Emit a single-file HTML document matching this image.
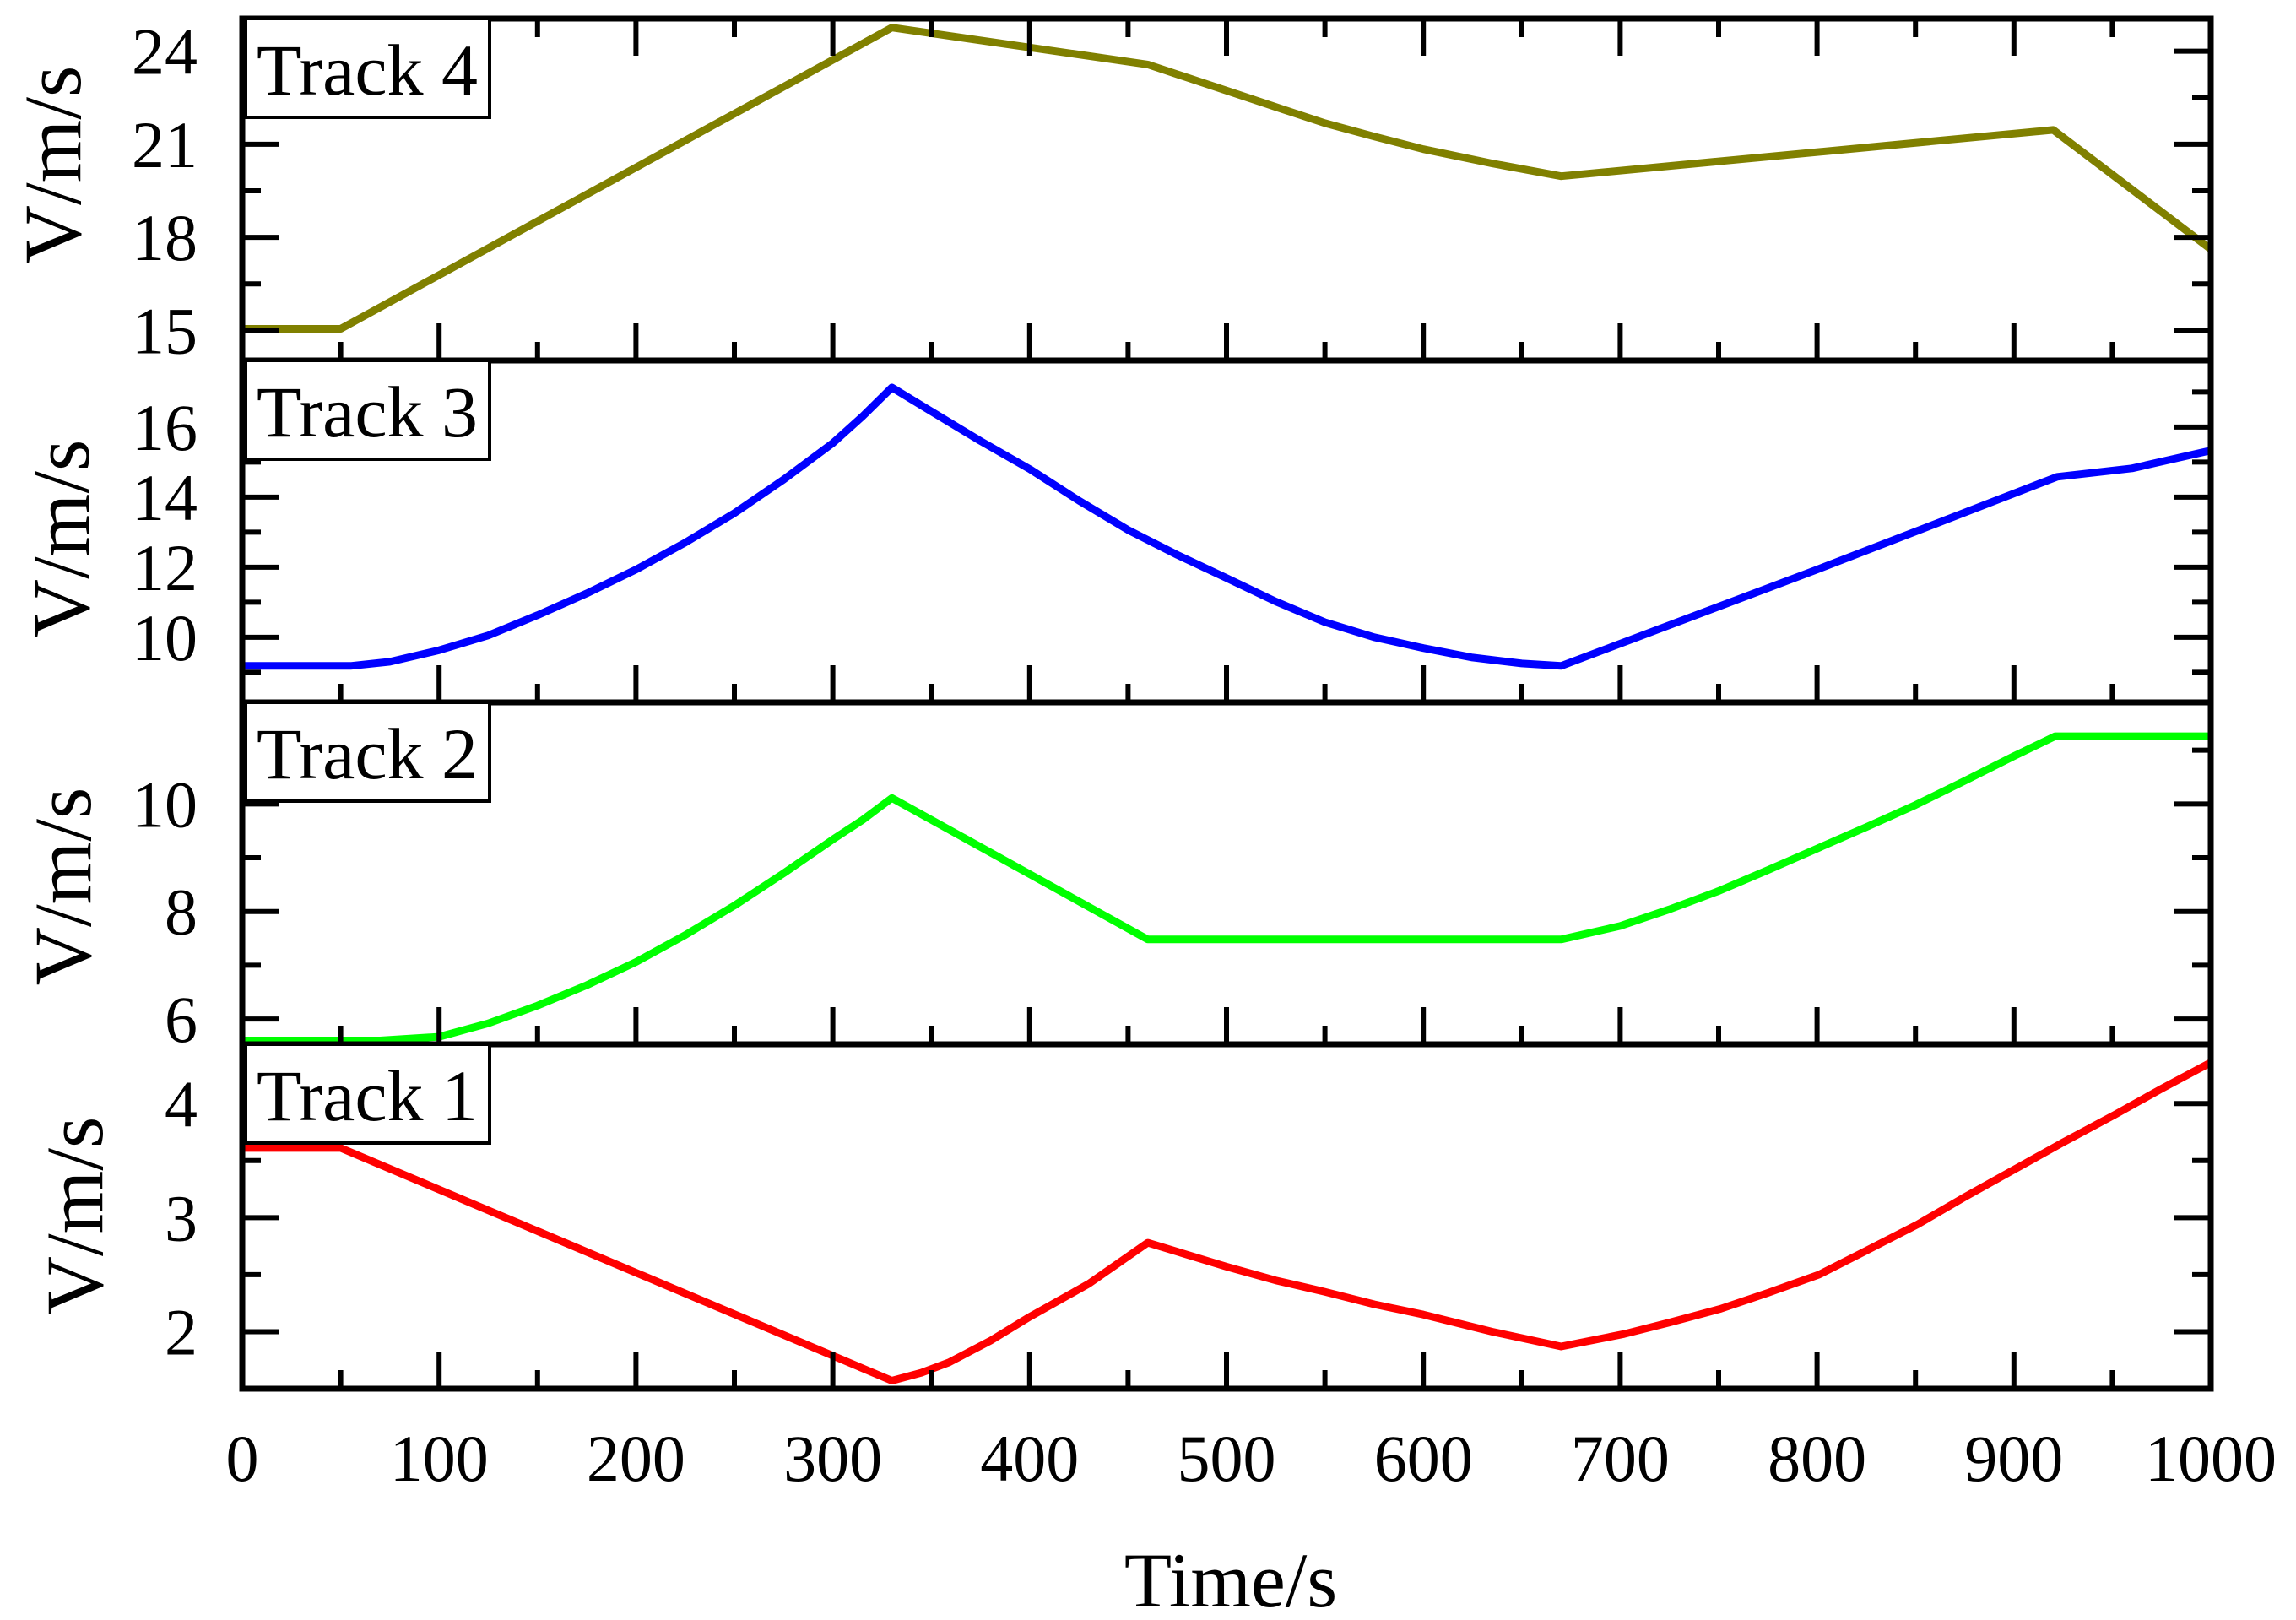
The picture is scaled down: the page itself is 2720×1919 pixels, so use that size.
<!DOCTYPE html>
<html><head><meta charset="utf-8">
<style>
html,body{margin:0;padding:0;background:#fff;}
svg{display:block;}
text{font-family:"Liberation Serif","Times New Roman",serif;fill:#000;}
</style></head>
<body>
<svg id="chart" width="2720" height="1919" viewBox="0 0 2720 1919" xmlns="http://www.w3.org/2000/svg">
<rect width="2720" height="1919" fill="#fff"/>
<text x="1458" y="1903" font-size="92" text-anchor="middle">Time/s</text>
</svg>
<script>
// ---- data ----
const xTicks = [0,100,200,300,400,500,600,700,800,900,1000];
const xTickLabels = ["0","100","200","300","400","500","600","700","800","900","1000"];

const tTrack4 = [0,50,330,460,500,525,550,575,600,635,670,920,1000];
const vTrack4 = [15.05,15.05,24.76,23.57,22.73,22.2,21.68,21.25,20.84,20.38,19.97,21.46,17.62];

const tTrack3 = [0,55,75,100,125,150,175,200,225,250,275,300,315,330,349,375,400,425,450,475,500,525,550,575,600,625,650,670,800,922,960,1000];
const vTrack3 = [9.18,9.18,9.3,9.63,10.05,10.63,11.25,11.93,12.7,13.54,14.5,15.54,16.3,17.13,16.48,15.6,14.8,13.9,13.06,12.35,11.69,11.02,10.43,10.0,9.69,9.42,9.25,9.18,11.93,14.58,14.82,15.33];

const tTrack2 = [0,70,100,125,150,175,200,225,250,275,300,315,330,460,670,700,725,750,775,800,825,850,875,900,921,1000];
const vTrack2 = [5.6,5.6,5.67,5.92,6.25,6.63,7.06,7.56,8.11,8.71,9.34,9.7,10.11,7.48,7.48,7.73,8.04,8.38,8.77,9.17,9.57,9.98,10.43,10.89,11.26,11.26];

const tTrack1 = [0,50,330,345,359,380,400,430,460,500,525,550,575,600,635,670,702,725,751,775,801,825,851,875,901,925,951,975,1000];
const vTrack1 = [3.61,3.61,1.57,1.64,1.73,1.92,2.13,2.42,2.78,2.57,2.45,2.35,2.24,2.15,2.0,1.87,1.98,2.08,2.2,2.34,2.5,2.71,2.94,3.18,3.43,3.66,3.9,4.13,4.36];

const yTicks4 = [15,18,21,24];
const yTicks3 = [10,12,14,16];
const yTicks2 = [6,8,10];
const yTicks1 = [2,3,4];

// ---- layout ----
const NS = "http://www.w3.org/2000/svg";
const svg = document.getElementById('chart');
const X0 = 287, X1 = 2619;
const xScale = t => X0 + (t - 0) / 1000 * (X1 - X0);

const panels = [
  {name:'track-4', label:'Track 4', top:22, bottom:427, ymin:14.03, ymax:25.05, ticks:yTicks4, minorStep:1.5, t:tTrack4, v:vTrack4, color:'#808000', titleX:62, titleY:195},
  {name:'track-3', label:'Track 3', top:427, bottom:832, ymin:8.14, ymax:17.9, ticks:yTicks3, minorStep:1, t:tTrack3, v:vTrack3, color:'#0000ff', titleX:72, titleY:638},
  {name:'track-2', label:'Track 2', top:832, bottom:1237, ymin:5.53, ymax:11.89, ticks:yTicks2, minorStep:1, t:tTrack2, v:vTrack2, color:'#00ff00', titleX:74, titleY:1050},
  {name:'track-1', label:'Track 1', top:1237, bottom:1645, ymin:1.50, ymax:4.52, ticks:yTicks1, minorStep:0.5, t:tTrack1, v:vTrack1, color:'#ff0000', titleX:88, titleY:1440}
];

function mk(tag, attrs, parent){
  const e = document.createElementNS(NS, tag);
  for (const k in attrs) e.setAttribute(k, attrs[k]);
  (parent||svg).appendChild(e);
  return e;
}

panels.forEach((p, idx) => {
  const yScale = v => p.bottom - (v - p.ymin) / (p.ymax - p.ymin) * (p.bottom - p.top);
  const g = mk('g', {});
  
  

  const cp = mk('clipPath', {id:'clip'+idx}, g);
  mk('rect', {x:X0, y:p.top, width:X1-X0, height:p.bottom-p.top}, cp);

  const pts = p.t.map((t,i) => xScale(t).toFixed(1) + ',' + yScale(p.v[i]).toFixed(1)).join(' ');
  const line = mk('polyline', {points:pts, fill:'none', stroke:p.color, 'stroke-width':9, 'stroke-linejoin':'round', 'clip-path':'url(#clip'+idx+')'}, g);
  
  

  for (let t = 0; t <= 1000; t += 50) {
    const major = t % 100 === 0;
    const L = major ? 44 : 22;
    const x = xScale(t);
    const tb = mk('line', {x1:x, x2:x, y1:p.bottom, y2:p.bottom-L, stroke:'#000', 'stroke-width':6}, g);
    
    
    if (idx === 0) {
      const tt = mk('line', {x1:x, x2:x, y1:p.top, y2:p.top+L, stroke:'#000', 'stroke-width':6}, g);
      
      
    }
  }
  const start = p.ticks[0] - Math.ceil((p.ticks[0]-p.ymin)/p.minorStep)*p.minorStep;
  for (let v = start; v <= p.ymax + 1e-9; v += p.minorStep) {
    if (v < p.ymin - 1e-9) continue;
    const major = p.ticks.some(m => Math.abs(m - v) < 1e-6);
    const L = major ? 44 : 22;
    const y = yScale(v);
    if (Math.abs(y - p.top) < 4 || Math.abs(y - p.bottom) < 4) continue;
    const tl = mk('line', {x1:X0, x2:X0+L, y1:y, y2:y, stroke:'#000', 'stroke-width':6}, g);
    
    
    const tr = mk('line', {x1:X1, x2:X1-L, y1:y, y2:y, stroke:'#000', 'stroke-width':6}, g);
    
    
  }
  p.ticks.forEach(v => {
    const lb = mk('text', {x:234, y:yScale(v)+27, 'font-size':78, 'text-anchor':'end'}, g);
    
    
    lb.textContent = String(v);
  });

  const fr = mk('rect', {x:X0, y:p.top, width:X1-X0, height:p.bottom-p.top, fill:'none', stroke:'#000', 'stroke-width':7}, g);
  
  

  const bx = mk('rect', {x:291, y:p.top, width:289, height:117, fill:'#fff', stroke:'#000', 'stroke-width':4}, g);
  
  
  const lt = mk('text', {x:304, y:p.top+90, 'font-size':86}, g);
  
  
  lt.textContent = p.label;

  const yt = mk('text', {x:0, y:0, 'font-size':96, 'text-anchor':'middle', transform:'translate('+(p.titleX+33)+','+p.titleY+') rotate(-90)'}, g);
  
  
  yt.textContent = 'V/m/s';
});

xTicks.forEach((t,i) => {
  const e = mk('text', {x:xScale(t), y:1754, 'font-size':78, 'text-anchor':'middle'});
  
  
  e.textContent = xTickLabels[i];
});
</script>
</body></html>
